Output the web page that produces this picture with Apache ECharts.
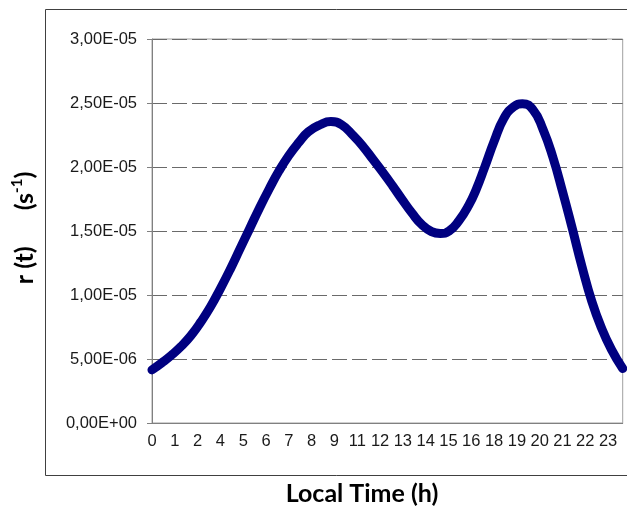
<!DOCTYPE html>
<html>
<head>
<meta charset="utf-8">
<script src="https://cdn.jsdelivr.net/npm/echarts@6/dist/echarts.min.js"></script>
<style>
html,body{margin:0;padding:0;background:#fff;}
#c{width:627px;height:506px;}
</style>
</head>
<body>
<div id="c"></div>
<script>
// Local time (h)
var times = [0, 0.5, 1, 1.5, 2, 2.5, 3, 3.5, 4, 4.5, 5, 5.5, 6, 6.5, 7, 7.5, 8, 8.6, 9.15, 9.7, 10.3, 10.8, 11.3, 11.8, 12.3, 12.8, 13.3, 13.8, 14.3, 14.75, 15.2, 15.7, 16.2, 16.6, 17, 17.5, 18, 18.5, 18.95, 19.5, 20, 20.5, 21, 21.5, 22, 22.5, 23, 23.5, 24.08];
// r(t) in s^-1
var rValues = [4.15e-6, 4.7e-6, 5.3e-6, 6.0e-6, 6.85e-6, 7.9e-6, 9.1e-6, 1.05e-5, 1.20e-5, 1.36e-5, 1.52e-5, 1.68e-5, 1.83e-5, 1.97e-5, 2.09e-5, 2.19e-5, 2.275e-5, 2.33e-5, 2.355e-5, 2.33e-5, 2.245e-5, 2.16e-5, 2.06e-5, 1.96e-5, 1.855e-5, 1.745e-5, 1.64e-5, 1.55e-5, 1.495e-5, 1.48e-5, 1.50e-5, 1.58e-5, 1.70e-5, 1.83e-5, 1.99e-5, 2.20e-5, 2.38e-5, 2.47e-5, 2.495e-5, 2.445e-5, 2.295e-5, 2.08e-5, 1.81e-5, 1.52e-5, 1.22e-5, 9.5e-6, 7.4e-6, 5.75e-6, 4.25e-6];
var yTicks = [0, 5e-6, 1e-5, 1.5e-5, 2e-5, 2.5e-5, 3e-5];
var xTitle = 'Local Time (h)';

function fmtY(v) {
  var s = Number(v).toExponential(2);
  var parts = s.split('e');
  var mant = parts[0].replace('.', ',');
  var ex = parseInt(parts[1], 10);
  var sign = ex < 0 ? '-' : '+';
  var a = Math.abs(ex);
  return mant + 'E' + sign + (a < 10 ? '0' + a : '' + a);
}

var data = times.map(function (t, i) { return [t, rValues[i]]; });

var chart = echarts.init(document.getElementById('c'), null, {renderer: 'canvas'});
chart.setOption({
  animation: false,
  backgroundColor: '#fff',
  grid: {
    left: 152, right: 4.3, top: 39, bottom: 83,
    show: true, borderColor: '#a0a0a0', borderWidth: 1, backgroundColor: 'transparent'
  },
  xAxis: {
    type: 'value',
    min: 0, max: 24.08, interval: 7 / 6,
    axisLine: {show: true, onZero: false, lineStyle: {color: '#808080', width: 1}},
    axisTick: {show: false},
    splitLine: {show: false},
    axisLabel: {
      showMaxLabel: false,
      margin: 10,
      fontFamily: '"Liberation Sans", Arial, sans-serif', fontSize: 16.5, color: '#1a1a1a',
      formatter: function (v) { return v > 23.6 ? '' : String(Math.round(v + 1e-9)); }
    }
  },
  yAxis: {
    type: 'value',
    min: yTicks[0], max: yTicks[yTicks.length - 1], interval: yTicks[1] - yTicks[0],
    axisLine: {show: true, lineStyle: {color: '#808080', width: 1}},
    axisTick: {show: true, length: 5, lineStyle: {color: '#808080'}},
    splitLine: {show: true, lineStyle: {color: '#6a6a6a', type: [15, 5], width: 1}},
    axisLabel: {
      margin: 15,
      fontFamily: '"Liberation Sans", Arial, sans-serif', fontSize: 16.5, color: '#1a1a1a',
      formatter: fmtY
    }
  },
  series: [{
    type: 'line',
    data: data,
    smooth: 0.5,
    symbol: 'none',
    clip: false,
    lineStyle: {color: '#000080', width: 9, cap: 'round', join: 'round'}
  }],
  graphic: [
    {
      type: 'rect', z: -1, silent: true,
      shape: {x: 45.5, y: 9.5, width: 700, height: 466},
      style: {fill: 'none', stroke: '#404040', lineWidth: 1}
    },
    {
      type: 'text', silent: true,
      x: 362, y: 494,
      style: {
        text: xTitle, align: 'center', verticalAlign: 'middle',
        font: 'bold 25px Lato, "Open Sans", sans-serif', fill: '#000'
      }
    },
    {
      type: 'text', silent: true,
      x: 25, y: 228, rotation: Math.PI / 2,
      style: {
        text: '{a|r (t)}{g|}{a|(s}{s|-1}{a|)}',
        align: 'center', verticalAlign: 'middle',
        rich: {
          a: {font: 'bold 25px Lato, "Open Sans", sans-serif', fill: '#000', lineHeight: 30},
          g: {width: 36, lineHeight: 30},
          s: {font: 'bold 15px Lato, "Open Sans", sans-serif', fill: '#000', verticalAlign: 'top', lineHeight: 16}
        }
      }
    }
  ]
});
</script>
</body>
</html>
